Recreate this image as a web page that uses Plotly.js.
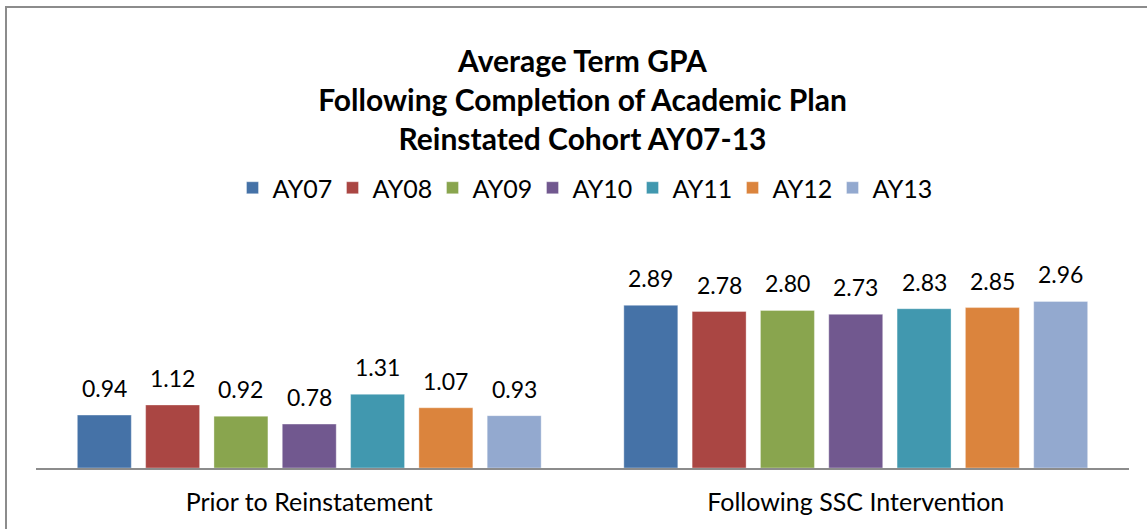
<!DOCTYPE html>
<html>
<head>
<meta charset="utf-8">
<script src="https://cdn.plot.ly/plotly-3.0.1.min.js"></script>
<style>html,body{margin:0;padding:0;background:#fff;}#chart{width:1147px;height:529px;}</style>
</head>
<body>
<div id="chart"></div>
<script>
const categories = ["Prior to Reinstatement", "Following SSC Intervention"];
const seriesNames = ["AY07", "AY08", "AY09", "AY10", "AY11", "AY12", "AY13"];
const AY07 = [0.94, 2.89];
const AY08 = [1.12, 2.78];
const AY09 = [0.92, 2.80];
const AY10 = [0.78, 2.73];
const AY11 = [1.31, 2.83];
const AY12 = [1.07, 2.85];
const AY13 = [0.93, 2.96];
const seriesValues = [AY07, AY08, AY09, AY10, AY11, AY12, AY13];
const colors = ["#4572A7", "#AA4643", "#89A54E", "#71588F", "#4198AF", "#DB843D", "#93A9CF"];
const titleLines = ["Average Term GPA", "Following Completion of Academic Plan", "Reinstated Cohort AY07-13"];

const W = 1147, H = 529;
const margin = {l: 36, r: 18, t: 271, b: 61};
const bargap = 0.125;
const plotW = W - margin.l - margin.r;
const plotH = H - margin.t - margin.b;
const catW = plotW / categories.length;
const pitch = catW * (1 - bargap) / seriesNames.length;
const FONT = "Lato, 'Open Sans', sans-serif";

const traces = seriesNames.map((name, i) => ({
  type: "bar",
  name: name,
  x: categories,
  y: seriesValues[i],
  marker: {color: colors[i], line: {color: "rgba(255,255,255,0.35)", width: 1}},
  hoverinfo: "x+y+name"
}));

const annotations = [];
seriesValues.forEach((vals, i) => {
  vals.forEach((v, j) => {
    annotations.push({
      x: categories[j], y: v, xref: "x", yref: "y",
      xshift: (i - (seriesNames.length - 1) / 2) * pitch,
      yshift: 11, yanchor: "bottom", xanchor: "center",
      text: v.toFixed(2), showarrow: false,
      font: {family: FONT, size: 23, color: "#000"}
    });
  });
});

const toPaperX = px => (px - margin.l) / plotW;
const toPaperY = py => (H - margin.b - py) / plotH;

const layout = {
  width: W, height: H,
  margin: margin,
  paper_bgcolor: "#fff", plot_bgcolor: "#fff",
  font: {family: FONT, color: "#000"},
  title: {
    text: titleLines.map(s => "<b>" + s + "</b>").join("<br>"),
    font: {family: FONT, size: 30, color: "#000"},
    x: 0.5, xref: "paper", xanchor: "center",
    y: 1 - 72 / H, yref: "container", yanchor: "middle"
  },
  barmode: "group",
  bargap: bargap,
  bargroupgap: 0.21,
  showlegend: true,
  legend: {
    orientation: "h", x: 0.5, xanchor: "center",
    y: toPaperY(188), yanchor: "middle",
    font: {family: FONT, size: 25, color: "#000"},
    traceorder: "normal", itemclick: false,
    entrywidth: 55, entrywidthmode: "pixels"
  },
  xaxis: {
    showline: true, linecolor: "#8c8c8c", linewidth: 2,
    ticks: "", showgrid: false, zeroline: false,
    tickfont: {family: FONT, size: 25, color: "#000"},
    ticklabelstandoff: 11
  },
  yaxis: {range: [0, 3.5], visible: false, showgrid: false, zeroline: false},
  annotations: annotations,
  shapes: [{
    type: "rect", xref: "paper", yref: "paper",
    x0: toPaperX(6), x1: toPaperX(W + 10), y0: toPaperY(H + 10), y1: toPaperY(7),
    line: {color: "#8c8c8c", width: 2}, fillcolor: "rgba(0,0,0,0)", layer: "below"
  }]
};

Plotly.newPlot("chart", traces, layout, {displayModeBar: false, staticPlot: true});
</script>
</body>
</html>
